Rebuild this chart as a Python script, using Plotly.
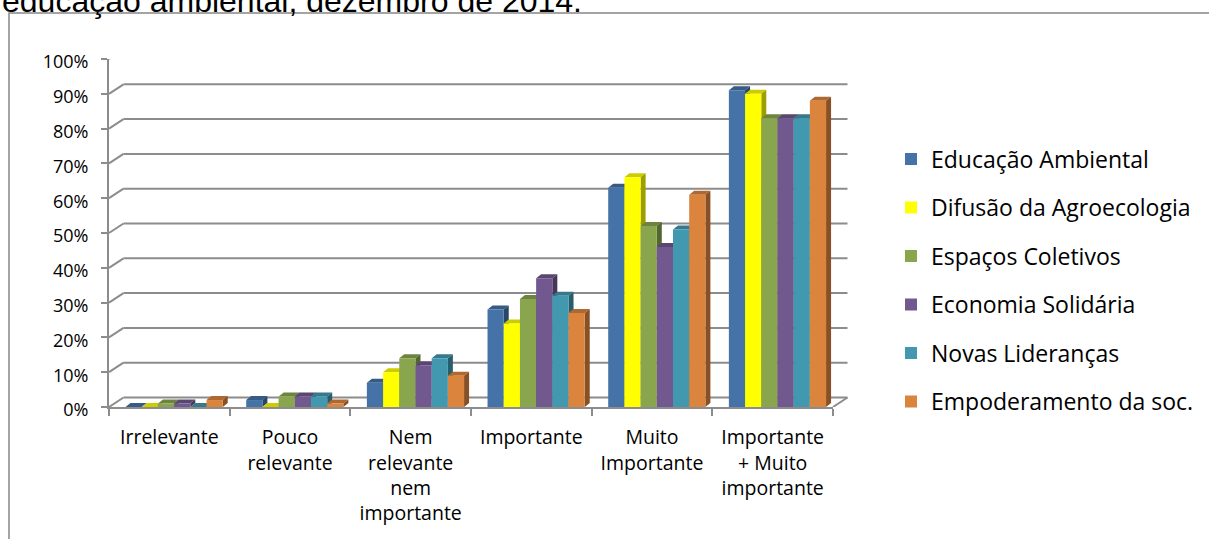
import plotly.graph_objects as go

# ---- data -------------------------------------------------------------
categories = [
    "Irrelevante",
    "Pouco<br>relevante",
    "Nem<br>relevante<br>nem<br>importante",
    "Importante",
    "Muito<br>Importante",
    "Importante<br>+ Muito<br>importante",
]
series_names = [
    "Educação Ambiental",
    "Difusão da Agroecologia",
    "Espaços Coletivos",
    "Economia Solidária",
    "Novas Lideranças",
    "Empoderamento da soc.",
]
educacao_ambiental = [0, 2, 7, 28, 63, 91]
difusao_agroecologia = [0, 0, 10, 24, 66, 90]
espacos_coletivos = [1, 3, 14, 31, 52, 83]
economia_solidaria = [1, 3, 12, 37, 46, 83]
novas_liderancas = [0, 3, 14, 32, 51, 83]
empoderamento = [2, 1, 9, 27, 61, 88]
series_values = [educacao_ambiental, difusao_agroecologia, espacos_coletivos,
                 economia_solidaria, novas_liderancas, empoderamento]
y_ticks = list(range(0, 101, 10))
y_tick_labels = [f"{t}%" for t in y_ticks]
title_text = "educação ambiental, dezembro de 2014."

# ---- style ------------------------------------------------------------
colors = ["#4572A7", "#FFFF00", "#89A54E", "#71588F", "#4198AF", "#DB843D"]
FONT = "Open Sans"
GRID = "#8C8C8C"

W, H = 1209, 539
PLOT_L, PLOT_R, PLOT_T, PLOT_B = 109, 833, 59, 407   # front plane in px
plot_w, plot_h = PLOT_R - PLOT_L, PLOT_B - PLOT_T
n_cat = len(categories)
px_per_x = plot_w / n_cat
px_per_y = plot_h / 100.0

# depth of the back wall and of each column, in pixels
WALL_DX, WALL_DY = 14.5, 9.5
BAR_DX, BAR_DY = 5, 4
BAR_W_PX, GROUP_SHIFT_PX = 16.2, 4.8

bar_w = BAR_W_PX / px_per_x
shift = GROUP_SHIFT_PX / px_per_x
bdx, bdy = BAR_DX / px_per_x, BAR_DY / px_per_y
wall_dx_paper = WALL_DX / plot_w
wall_dy = WALL_DY / px_per_y


def shade(hex_color, f):
    r, g, b = (int(hex_color[i:i + 2], 16) for i in (1, 3, 5))
    return "#%02X%02X%02X" % (int(r * f), int(g * f), int(b * f))


fig = go.Figure()
shapes = []

n_ser = len(series_names)
for j, (name, vals, col) in enumerate(zip(series_names, series_values, colors)):
    offset = (j - (n_ser - 1) / 2) * bar_w + shift
    xs = [i + offset for i in range(n_cat)]
    fig.add_trace(go.Bar(
        x=xs, y=vals, width=bar_w, name=name,
        marker=dict(color=col, line=dict(width=0)),
        legendgroup=name,
    ))
    for x, v in zip(xs, vals):
        xl, xr = x - bar_w / 2, x + bar_w / 2
        # top face
        shapes.append(dict(
            type="path", xref="x", yref="y", layer="between",
            path=f"M{xl},{v} L{xr},{v} L{xr + bdx},{v + bdy} L{xl + bdx},{v + bdy} Z",
            fillcolor=shade(col, 0.8), line=dict(width=0)))
        # side face
        shapes.append(dict(
            type="path", xref="x", yref="y", layer="between",
            path=f"M{xr},0 L{xr},{v} L{xr + bdx},{v + bdy} L{xr + bdx},{bdy} Z",
            fillcolor=shade(col, 0.62), line=dict(width=0)))

# back-wall gridlines and the elbows joining them to the value axis
for t in y_ticks:
    shapes.append(dict(type="line", xref="paper", yref="y", layer="below",
                       x0=wall_dx_paper, x1=1 + wall_dx_paper, y0=t + wall_dy, y1=t + wall_dy,
                       line=dict(color=GRID, width=2)))
    shapes.append(dict(type="line", xref="paper", yref="y", layer="below",
                       x0=0, x1=wall_dx_paper, y0=t, y1=t + wall_dy,
                       line=dict(color=GRID, width=2)))
# right edge of the floor
shapes.append(dict(type="line", xref="paper", yref="y", layer="below",
                   x0=1, x1=1 + wall_dx_paper, y0=0, y1=wall_dy,
                   line=dict(color=GRID, width=2)))

# outer chart frame
shapes.append(dict(type="rect", xref="paper", yref="paper", layer="below",
                   x0=(9 - PLOT_L) / plot_w, x1=(W + 10 - PLOT_L) / plot_w,
                   y0=(PLOT_B - (H + 10)) / plot_h, y1=(PLOT_B - 13) / plot_h,
                   line=dict(color="#868686", width=1.5)))

fig.update_layout(
    width=W, height=H,
    margin=dict(l=PLOT_L, r=W - PLOT_R, t=PLOT_T, b=H - PLOT_B, pad=0),
    paper_bgcolor="white", plot_bgcolor="rgba(0,0,0,0)",
    barmode="overlay",
    font=dict(family=FONT, color="#000000"),
    shapes=shapes,
    showlegend=True,
    legend=dict(
        xref="container", yref="container",
        x=891 / W, xanchor="left", y=1 - 137.5 / H, yanchor="top",
        font=dict(family=FONT, size=23, color="#000000"),
        tracegroupgap=15.6, bgcolor="rgba(0,0,0,0)", maxheight=1,
    ),
    annotations=[dict(
        text=title_text, xref="paper", yref="paper",
        x=(0 - PLOT_L) / plot_w, xanchor="left",
        y=(PLOT_B - 1) / plot_h, yanchor="middle",
        showarrow=False, font=dict(family="Liberation Sans", size=32, color="#000000"),
    )],
)

fig.update_xaxes(
    range=[-0.5, n_cat - 0.5], tickmode="array",
    tickvals=list(range(n_cat)), ticktext=categories,
    ticks="", showgrid=False, zeroline=False,
    showline=True, linecolor=GRID, linewidth=2,
    tickfont=dict(family=FONT, size=19.5, color="#000000"),
    ticklabelstandoff=12,
    minor=dict(tickmode="array", tickvals=[i - 0.5 for i in range(n_cat + 1)],
               ticks="outside", ticklen=7, tickwidth=2, tickcolor=GRID, showgrid=False),
)
fig.update_yaxes(
    range=[0, 100], tickmode="array", tickvals=y_ticks, ticktext=y_tick_labels,
    showgrid=False, zeroline=False,
    showline=True, linecolor=GRID, linewidth=2,
    ticks="outside", ticklen=6, tickwidth=2, tickcolor=GRID,
    tickfont=dict(family=FONT, size=18, color="#000000"),
    ticklabelstandoff=9, ticklabelshift=3,
)

fig.write_html("out.html")
